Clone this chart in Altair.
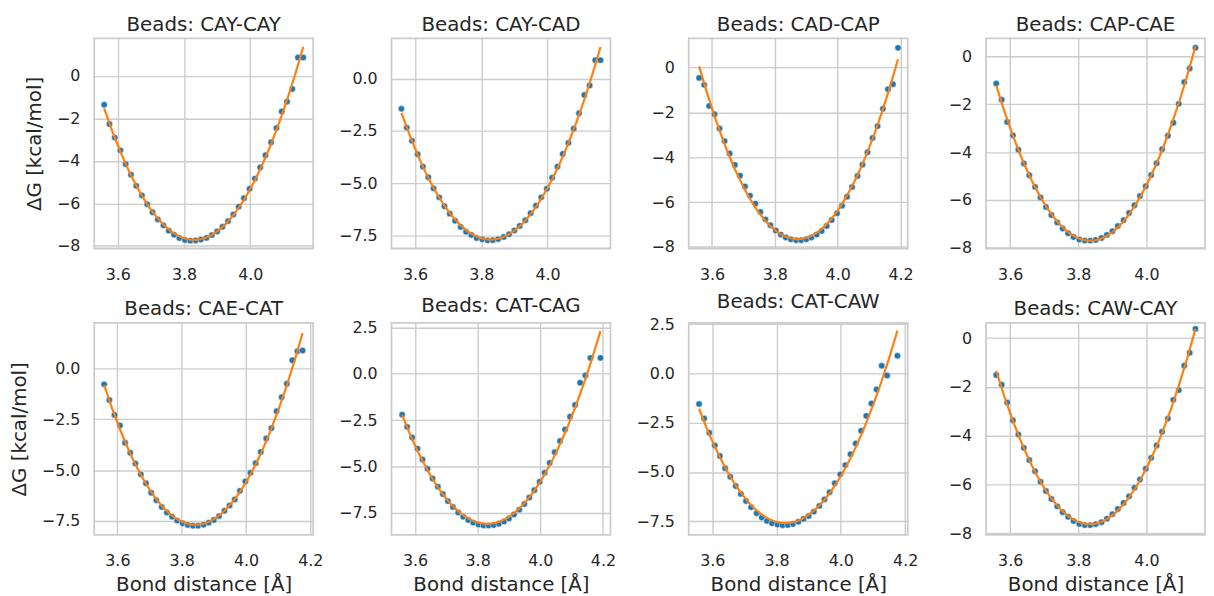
import altair as alt
import pandas as pd

# Bond distance bin centres [Å] shared by all bead pairs
bond_distance = [3.559, 3.575, 3.591, 3.608, 3.624, 3.640, 3.656, 3.673, 3.689, 3.705,
                 3.721, 3.738, 3.754, 3.770, 3.786, 3.803, 3.819, 3.835, 3.851, 3.868,
                 3.884, 3.900, 3.916, 3.933, 3.949, 3.965, 3.981, 3.998, 4.014, 4.030,
                 4.046, 4.063, 4.079, 4.095, 4.111, 4.127, 4.144, 4.160, 4.176, 4.192]

pair_names = ["CAY-CAY", "CAY-CAD", "CAD-CAP", "CAP-CAE",
              "CAE-CAT", "CAT-CAG", "CAT-CAW", "CAW-CAY"]

# ΔG [kcal/mol] per bin (None = empty bin)
dg_cay_cay = [-1.35, -2.26, -2.90, -3.50, -4.14, -4.65, -5.17, -5.62, -6.04, -6.41,
              -6.75, -7.03, -7.28, -7.47, -7.63, -7.72, -7.75, -7.74, -7.70, -7.62,
              -7.49, -7.32, -7.10, -6.83, -6.52, -6.15, -5.75, -5.31, -4.83, -4.31,
              -3.73, -3.12, -2.45, -1.67, -1.21, -0.61, 0.87, 0.87]
dg_cay_cad = [-1.44, -2.34, -2.97, -3.62, -4.21, -4.72, -5.25, -5.68, -6.11, -6.46,
              -6.80, -7.10, -7.33, -7.48, -7.63, -7.69, -7.74, -7.73, -7.68, -7.58,
              -7.45, -7.27, -7.05, -6.78, -6.44, -6.08, -5.68, -5.27, -4.74, -4.21,
              -3.60, -3.07, -2.39, -1.65, -0.78, -0.32, 0.89, 0.89]
dg_cad_cap = [-0.46, -0.77, -1.71, -2.08, -2.72, -3.28, -3.83, -4.34, -4.82, -5.30,
              -5.71, -6.07, -6.44, -6.77, -7.03, -7.27, -7.45, -7.58, -7.66, -7.70,
              -7.70, -7.66, -7.58, -7.45, -7.29, -7.07, -6.80, -6.50, -6.16, -5.76,
              -5.33, -4.84, -4.33, -3.78, -3.14, -2.61, -1.84, -0.97, -0.74, 0.88]
dg_cap_cae = [-1.13, -1.81, -2.74, -3.30, -3.90, -4.48, -4.97, -5.46, -5.90, -6.30,
              -6.64, -6.95, -7.20, -7.40, -7.56, -7.66, -7.71, -7.71, -7.68, -7.60,
              -7.47, -7.32, -7.10, -6.85, -6.55, -6.23, -5.84, -5.43, -4.96, -4.47,
              -3.88, -3.32, -2.77, -1.98, -1.07, -0.50, 0.37]
dg_cae_cat = [-0.79, -1.56, -2.29, -2.81, -3.66, -4.15, -4.68, -5.21, -5.65, -6.11,
              -6.48, -6.81, -7.08, -7.29, -7.48, -7.61, -7.69, -7.73, -7.73, -7.68,
              -7.58, -7.45, -7.26, -7.00, -6.74, -6.44, -6.02, -5.56, -5.13, -4.66,
              -4.11, -3.45, -2.94, -2.11, -1.42, -0.76, 0.39, 0.84, 0.87]
dg_cat_cag = [-2.20, -2.86, -3.43, -4.03, -4.62, -5.12, -5.64, -6.08, -6.48, -6.86,
              -7.18, -7.47, -7.70, -7.88, -8.02, -8.12, -8.17, -8.18, -8.15, -8.08,
              -7.96, -7.80, -7.58, -7.32, -7.02, -6.67, -6.27, -5.82, -5.33, -4.80,
              -4.22, -3.62, -3.00, -2.31, -1.68, -0.48, -0.09, 0.86, None, 0.86]
dg_cat_caw = [-1.55, -2.28, -3.01, -3.65, -4.19, -4.81, -5.24, -5.71, -6.11, -6.47,
              -6.79, -7.09, -7.31, -7.48, -7.60, -7.67, -7.70, -7.69, -7.64, -7.52,
              -7.38, -7.23, -7.01, -6.72, -6.39, -6.03, -5.57, -5.12, -4.65, -4.10,
              -3.55, -2.91, -2.15, -1.52, -0.81, 0.39, -0.10, None, 0.90]
dg_caw_cay = [-1.51, -1.91, -2.64, -3.37, -3.95, -4.50, -5.00, -5.46, -5.89, -6.27,
              -6.60, -6.90, -7.14, -7.33, -7.50, -7.62, -7.67, -7.67, -7.63, -7.55,
              -7.41, -7.22, -7.01, -6.76, -6.49, -6.14, -5.80, -5.36, -4.91, -4.40,
              -3.84, -3.30, -2.53, -2.13, -1.13, -0.60, 0.38]

dg_series = [dg_cay_cay, dg_cay_cad, dg_cad_cap, dg_cap_cae,
             dg_cae_cat, dg_cat_cag, dg_cat_caw, dg_caw_cay]

# axis settings per panel
x_tick_values = [3.6, 3.8, 4.0, 4.2]
y_ticks_int = [0, -2, -4, -6, -8]
y_ticks_half = [2.5, 0.0, -2.5, -5.0, -7.5]

x_domains = [[3.529, 4.190], [3.529, 4.190], [3.526, 4.223], [3.529, 4.172],
             [3.528, 4.209], [3.525, 4.224], [3.527, 4.208], [3.529, 4.172]]
y_domains = [[-8.12, 1.77], [-8.13, 1.93], [-8.07, 1.30], [-8.04, 0.76],
             [-8.18, 2.23], [-8.68, 2.75], [-8.19, 2.57], [-8.07, 0.63]]
y_tick_sets = [y_ticks_int, y_ticks_half, y_ticks_int, y_ticks_int,
               y_ticks_half, y_ticks_half, y_ticks_half, y_ticks_int]
y_formats = [".0f", ".1f", ".0f", ".0f", ".1f", ".1f", ".1f", ".0f"]

BLUE = "#1f77b4"
ORANGE = "#ff7f0e"
TEXT = "#262626"
GRID = "#cccccc"
FONT = "DejaVu Sans"

panels = []
for k, (name, dg) in enumerate(zip(pair_names, dg_series)):
    rows = [{"x": x, "y": y} for x, y in zip(bond_distance, dg) if y is not None]
    df = pd.DataFrame(rows)
    xdom, ydom = x_domains[k], y_domains[k]
    xt = [t for t in x_tick_values if xdom[0] <= t <= xdom[1]]
    yt = [t for t in y_tick_sets[k] if ydom[0] <= t <= ydom[1]]
    first_col = (k % 4 == 0)
    bottom_row = (k >= 4)
    x_axis = alt.Axis(values=xt, format=".1f",
                      title="Bond distance [Å]" if bottom_row else None)
    y_axis = alt.Axis(values=yt, format=y_formats[k],
                      title="ΔG [kcal/mol]" if first_col else None)
    base = alt.Chart(df).encode(
        x=alt.X("x:Q", scale=alt.Scale(domain=xdom, nice=False, zero=False), axis=x_axis),
        y=alt.Y("y:Q", scale=alt.Scale(domain=ydom, nice=False, zero=False), axis=y_axis),
    )
    pts = base.mark_circle(size=42, color=BLUE, opacity=1, stroke="white", strokeWidth=0.5)
    fit = base.transform_regression(
        "x", "y", method="poly", order=2,
        extent=[float(df["x"].min()), float(df["x"].max())]
    ).mark_line(color=ORANGE, strokeWidth=2.2)
    panel = alt.layer(pts, fit).properties(
        width=221, height=214 if bottom_row else 212,
        title=alt.TitleParams("Beads: " + name, fontSize=20, fontWeight="normal",
                              font=FONT, color=TEXT, offset=4, anchor="middle"),
    )
    panels.append(panel)

chart = alt.concat(*panels, columns=4, spacing={"row": 75, "column": 79},
                   bounds="flush").properties(
    padding={"left": 0, "top": 3, "right": 0, "bottom": 0}
).configure_view(
    stroke=GRID, strokeWidth=1.8
).configure_axis(
    domain=False, ticks=False, tickSize=0, grid=True, gridColor=GRID, gridWidth=1.4,
    labelFont=FONT, labelFontSize=16, labelColor=TEXT, labelFlush=False, labelOverlap=False,
    titleFont=FONT, titleFontSize=20, titleFontWeight="normal", titleColor=TEXT,
).configure_axisX(
    labelPadding=18, titlePadding=6
).configure_axisY(
    labelPadding=14.5, titlePadding=12
)

chart.save("out.html", embed_options={"renderer": "svg", "actions": False})
